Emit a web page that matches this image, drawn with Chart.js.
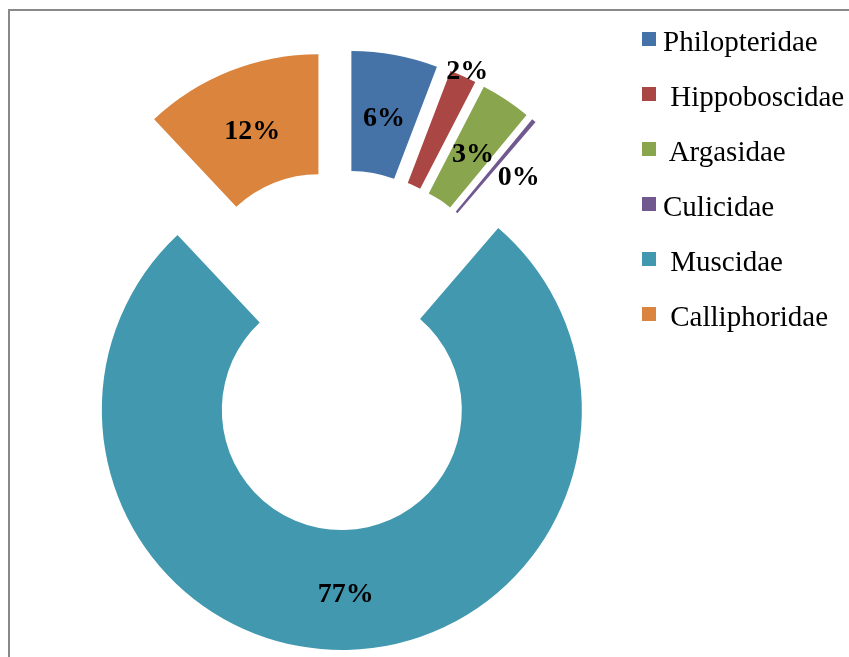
<!DOCTYPE html>
<html>
<head>
<meta charset="utf-8">
<script src="https://cdn.jsdelivr.net/npm/chart.js@4.4.0/dist/chart.umd.min.js"></script>
<style>
html, body { margin: 0; padding: 0; background: #fff; }
#wrap { position: relative; width: 849px; height: 657px; overflow: hidden; }
#frame { position: absolute; left: 8px; top: 9px; width: 900px; height: 700px; border: 2px solid #898989; box-sizing: border-box; }
#myChart { position: absolute; left: 0; top: 0; }
#legend { position: absolute; left: 642px; top: 14px; font-family: 'Liberation Serif', 'Times New Roman', serif; font-size: 29px; color: #000; }
.item { height: 55px; display: flex; align-items: center; white-space: pre; }
.box { width: 14px; height: 14px; margin-right: 7px; flex: none; position: relative; top: -3px; }
</style>
</head>
<body>
<div id="wrap">
    <div id="frame"></div>
    <canvas id="myChart" width="849" height="657"></canvas>
    <div id="legend"></div>
</div>
<script>
const categories = ['Philopteridae', ' Hippoboscidae', ' Argasidae', 'Culicidae', ' Muscidae', ' Calliphoridae'];
const percentages = [5.8, 1.8, 3.4, 0.3, 76.7, 12.0];
const colors = ['#4572A7', '#AA4643', '#89A54E', '#71588F', '#4198AF', '#DB843D'];

const explode = 60; // every slice pulled out by the same distance

// label spot: distance from slice centre and small angle nudge (deg) for the thin slices
const labelRadius = [180, 250, 180, 192, 180, 180];
const labelNudge = [0, 0, 0, 6.5, 0, 0];

// move each arc out along its middle angle (chart.js own offset also grows the radius)
const explodeArcs = {
    id: 'explodeArcs',
    afterDatasetsUpdate(chart) {
        chart.getDatasetMeta(0).data.forEach(function (arc) {
            const mid = (arc.startAngle + arc.endAngle) / 2;
            arc.x += Math.cos(mid) * explode;
            arc.y += Math.sin(mid) * explode;
        });
    }
};

const pctLabels = {
    id: 'pctLabels',
    afterDatasetsDraw(chart) {
        const ctx = chart.ctx;
        const meta = chart.getDatasetMeta(0);
        ctx.save();
        ctx.font = 'bold 28px "Liberation Serif", "Times New Roman", serif';
        ctx.fillStyle = '#000';
        ctx.textAlign = 'center';
        ctx.textBaseline = 'middle';
        meta.data.forEach(function (arc, i) {
            const a = (arc.startAngle + arc.endAngle) / 2 + labelNudge[i] * Math.PI / 180;
            ctx.fillText(Math.round(percentages[i]) + '%', arc.x + Math.cos(a) * labelRadius[i], arc.y + Math.sin(a) * labelRadius[i] + 5);
        });
        ctx.restore();
    }
};

const legend = document.getElementById('legend');
categories.forEach(function (name, i) {
    const row = document.createElement('div');
    row.className = 'item';
    const box = document.createElement('span');
    box.className = 'box';
    box.style.background = colors[i];
    const txt = document.createElement('span');
    txt.textContent = name;
    row.appendChild(box);
    row.appendChild(txt);
    legend.appendChild(row);
});

const ctx = document.getElementById('myChart').getContext('2d');
const myChart = new Chart(ctx, {
    type: 'doughnut',
    data: {
        labels: categories,
        datasets: [{
            data: percentages,
            backgroundColor: colors,
            borderWidth: 0
        }]
    },
    options: {
        responsive: false,
        animation: false,
        events: [],
        radius: 240,
        cutout: '50%',
        layout: {
            padding: { left: 0, right: 168, top: 43, bottom: 0 }
        },
        plugins: {
            legend: { display: false },
            tooltip: { enabled: false }
        }
    },
    plugins: [explodeArcs, pctLabels]
});
</script>
</body>
</html>
